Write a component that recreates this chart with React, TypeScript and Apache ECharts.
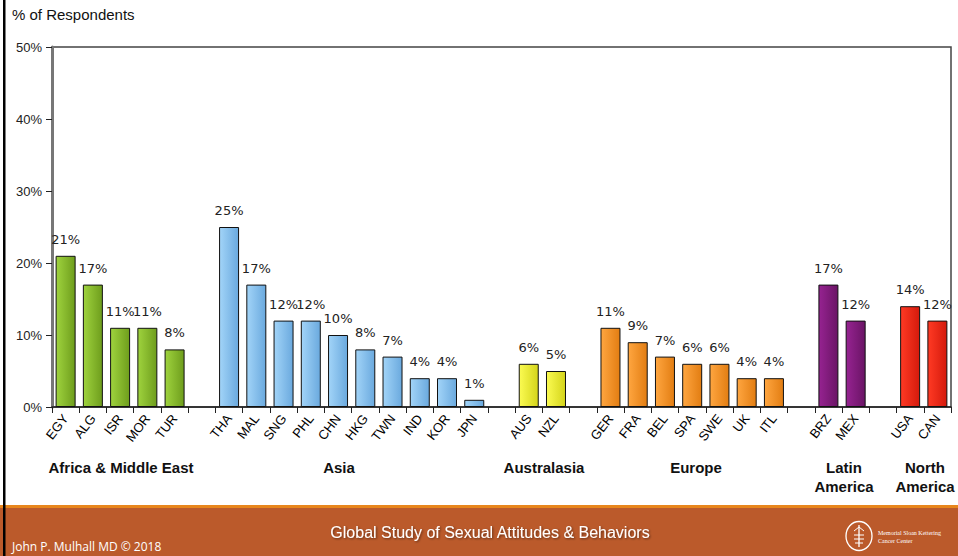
import React, { useEffect, useRef } from "react";
import * as echarts from "echarts";

const categories = ["EGY", "ALG", "ISR", "MOR", "TUR", "", "THA", "MAL", "SNG", "PHL", "CHN", "HKG", "TWN", "IND", "KOR", "JPN", " ", "AUS", "NZL", "  ", "GER", "FRA", "BEL", "SPA", "SWE", "UK", "ITL", "   ", "BRZ", "MEX", "    ", "USA", "CAN"];
const values: (number | null)[] = [21, 17, 11, 11, 8, null, 25, 17, 12, 12, 10, 8, 7, 4, 4, 1, null, 6, 5, null, 11, 9, 7, 6, 6, 4, 4, null, 17, 12, null, 14, 12];
const regionOf = ["af", "af", "af", "af", "af", "", "as", "as", "as", "as", "as", "as", "as", "as", "as", "as", "", "au", "au", "", "eu", "eu", "eu", "eu", "eu", "eu", "eu", "", "la", "la", "", "na", "na"];
const yTicks = [0, 10, 20, 30, 40, 50];

const regionColors: Record<string, [string, string]> = {
  af: ["#9fd33e", "#6e9d1c"],
  as: ["#a2d4f8", "#6aa9de"],
  au: ["#fbfb52", "#d4d41a"],
  eu: ["#ffa640", "#e27d12"],
  la: ["#962391", "#6a1465"],
  na: ["#ff3a24", "#d41a0c"],
};

const regionLabels = [
  { lines: ["Africa & Middle East"], x: 121 },
  { lines: ["Asia"], x: 339 },
  { lines: ["Australasia"], x: 544 },
  { lines: ["Europe"], x: 696 },
  { lines: ["Latin", "America"], x: 844 },
  { lines: ["North", "America"], x: 925 },
];

export default function App() {
  const ref = useRef<HTMLDivElement>(null);
  useEffect(() => {
    if (!ref.current) return;
    const chart = echarts.init(ref.current, null, { renderer: "svg" });
    const data = values.map((v, i) => {
      if (v === null) return "-";
      const c = regionColors[regionOf[i]];
      return {
        value: v,
        itemStyle: {
          color: new echarts.graphic.LinearGradient(0, 0, 1, 0, [
            { offset: 0, color: c[0] },
            { offset: 1, color: c[1] },
          ]),
        },
      };
    });
    const graphics: any[] = [
      { type: "rect", shape: { x: 3, y: 0, width: 2.5, height: 556 }, style: { fill: "#000" }, z: 100 },
      { type: "text", style: { text: "% of Respondents", x: 12, y: 14, fontSize: 15, fontFamily: "Liberation Sans", fill: "#111", textVerticalAlign: "middle" } },
      { type: "rect", shape: { x: 0, y: 505, width: 958, height: 3 }, style: { fill: "#e8861c" } },
      { type: "rect", shape: { x: 0, y: 508, width: 958, height: 48 }, style: { fill: "#bb5a2b" } },
      { type: "text", style: { text: "Global Study of Sexual Attitudes & Behaviors", x: 490, y: 532, fontSize: 16, fontFamily: "Liberation Sans", fill: "#fff", textAlign: "center", textVerticalAlign: "middle", textShadowColor: "rgba(0,0,0,0.5)", textShadowBlur: 2, textShadowOffsetX: 1, textShadowOffsetY: 1 } },
      { type: "text", style: { text: "John P. Mulhall MD © 2018", x: 12, y: 546, fontSize: 12, fontFamily: "Open Sans", fill: "#fff", textVerticalAlign: "middle" } },
      { type: "ellipse", shape: { cx: 859, cy: 536, rx: 13, ry: 14.5 }, style: { fill: "none", stroke: "#fff", lineWidth: 1.3 } },
      { type: "line", shape: { x1: 859, y1: 525, x2: 859, y2: 547 }, style: { stroke: "#fff", lineWidth: 1.3 } },
      { type: "polyline", shape: { points: [[854, 531], [859, 527], [864, 531]] }, style: { stroke: "#fff", lineWidth: 1, fill: "none" } },
      { type: "line", shape: { x1: 854, y1: 535, x2: 864, y2: 535 }, style: { stroke: "#fff", lineWidth: 1 } },
      { type: "line", shape: { x1: 854, y1: 539, x2: 864, y2: 539 }, style: { stroke: "#fff", lineWidth: 1 } },
      { type: "line", shape: { x1: 855, y1: 543, x2: 863, y2: 543 }, style: { stroke: "#fff", lineWidth: 1 } },
      { type: "text", style: { text: "Memorial Sloan Kettering", x: 878, y: 533, fontSize: 6, fontFamily: "Liberation Serif", fill: "#fff", textVerticalAlign: "middle" } },
      { type: "text", style: { text: "Cancer Center", x: 878, y: 541, fontSize: 6, fontFamily: "Liberation Serif", fill: "#fff", textVerticalAlign: "middle" } },
    ];
    regionLabels.forEach((r) => {
      r.lines.forEach((line, j) => {
        graphics.push({
          type: "text",
          style: { text: line, x: r.x, y: 467 + j * 19, fontSize: 15, fontWeight: "bold", fontFamily: "Liberation Sans", fill: "#111", textAlign: "center", textVerticalAlign: "middle" },
        });
      });
    });
    chart.setOption({
      animation: false,
      backgroundColor: "#fff",
      grid: { left: 52, top: 47, right: 7, bottom: 149, show: true, borderColor: "#444", borderWidth: 1.5, backgroundColor: "transparent" },
      xAxis: {
        type: "category",
        data: categories,
        boundaryGap: true,
        axisLine: { lineStyle: { color: "#222", width: 1.5 } },
        axisTick: { show: true, interval: 0, length: 6, lineStyle: { color: "#222" } },
        axisLabel: { interval: 0, rotate: 52, fontSize: 13, fontFamily: "Liberation Sans", color: "#000", margin: 9 },
      },
      yAxis: {
        type: "value",
        min: yTicks[0],
        max: yTicks[yTicks.length - 1],
        interval: 10,
        splitLine: { show: false },
        axisLine: { show: true, lineStyle: { color: "#777", width: 3 } },
        axisTick: { show: true, length: 6, lineStyle: { color: "#222" } },
        axisLabel: { formatter: "{value}%", fontSize: 13, fontFamily: "Liberation Sans", color: "#222", margin: 10 },
      },
      series: [
        {
          type: "bar",
          data,
          barWidth: 20,
          itemStyle: { borderColor: "#111", borderWidth: 1 },
          label: { show: true, position: "top", formatter: "{c}%", fontSize: 13, fontFamily: "DejaVu Sans", color: "#222", distance: 10 },
        },
      ],
      graphic: graphics,
    });
    return () => chart.dispose();
  }, []);
  return <div ref={ref} style={{ position: "fixed", left: 0, top: 0, width: 958, height: 556 }} />;
}
